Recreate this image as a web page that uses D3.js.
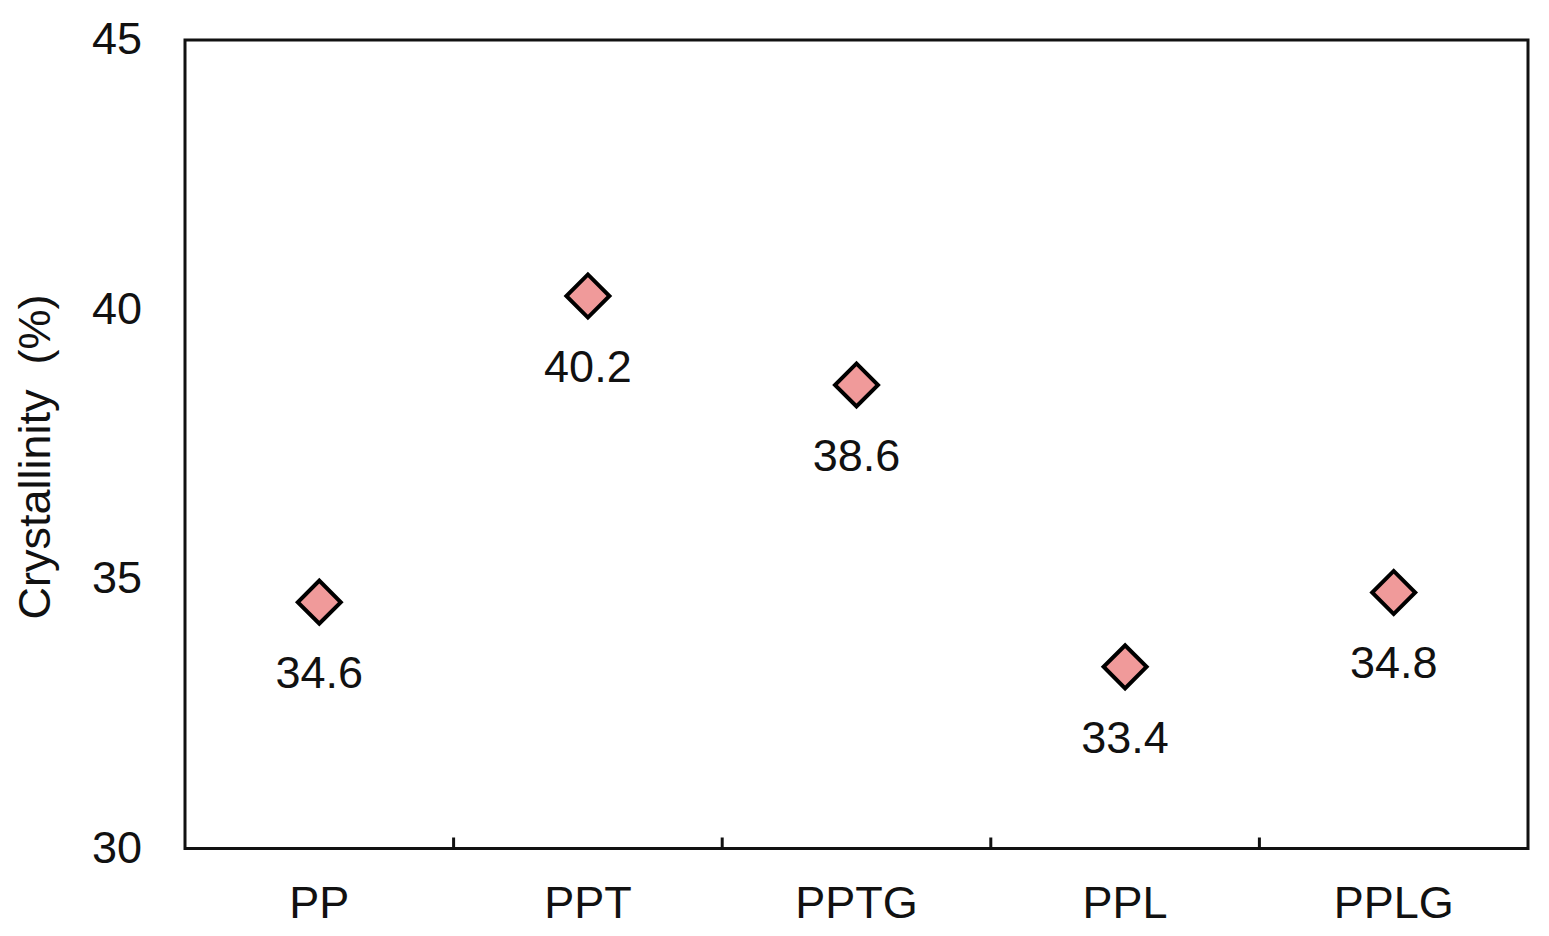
<!DOCTYPE html>
<html>
<head>
<meta charset="utf-8">
<script src="https://cdn.jsdelivr.net/npm/d3@7"></script>
<style>
  html, body { margin: 0; padding: 0; background: #fff; }
  svg { display: block; font-family: "Liberation Sans", Arial, sans-serif; }
</style>
</head>
<body>
<svg id="chart" width="1549" height="936"></svg>
<script>
const categories = ["PP", "PPT", "PPTG", "PPL", "PPLG"];
const crystallinity = [34.57, 40.25, 38.6, 33.37, 34.75];
const valueLabels = ["34.6", "40.2", "38.6", "33.4", "34.8"];
const yTicks = [30, 35, 40, 45];
const yTitle = "Crystallinity  (%)";

const svg = d3.select("#chart");
const plotLeft = 185, plotRight = 1528, plotTop = 40, plotBottom = 848.5;

const x = d3.scaleBand().domain(categories).range([plotLeft, plotRight]).padding(0);
const y = d3.scaleLinear().domain([30, 45]).range([plotBottom, plotTop]);

// frame
svg.append("rect")
  .attr("x", plotLeft).attr("y", plotTop)
  .attr("width", plotRight - plotLeft).attr("height", plotBottom - plotTop)
  .attr("fill", "none").attr("stroke", "#111").attr("stroke-width", 3);

// x-axis boundary ticks (inward)
const boundaries = categories.slice(1).map(c => x(c));
svg.selectAll("line.xtick").data(boundaries).enter().append("line")
  .attr("class", "xtick")
  .attr("x1", d => d).attr("x2", d => d)
  .attr("y1", plotBottom).attr("y2", plotBottom - 11)
  .attr("stroke", "#111").attr("stroke-width", 3);

// category labels
svg.selectAll("text.cat").data(categories).enter().append("text")
  .attr("class", "cat")
  .attr("x", d => x(d) + x.bandwidth() / 2)
  .attr("y", 918)
  .attr("text-anchor", "middle")
  .attr("font-size", 45)
  .attr("fill", "#111")
  .text(d => d);

// y tick labels
svg.selectAll("text.ytick").data(yTicks).enter().append("text")
  .attr("class", "ytick")
  .attr("x", 142)
  .attr("y", d => y(d) + 14)
  .attr("text-anchor", "end")
  .attr("font-size", 45)
  .attr("fill", "#111")
  .text(d => d);

// y title
svg.append("text")
  .attr("transform", `translate(50, 457) rotate(-90)`)
  .attr("text-anchor", "middle")
  .attr("font-size", 45)
  .attr("fill", "#111")
  .style("white-space", "pre")
  .text(yTitle);

// markers
const sym = d3.symbol().type(d3.symbolSquare).size(924);
svg.selectAll("path.pt").data(categories).enter().append("path")
  .attr("class", "pt")
  .attr("d", sym)
  .attr("transform", (d, i) => `translate(${x(d) + x.bandwidth() / 2}, ${y(crystallinity[i])}) rotate(45)`)
  .attr("fill", "#f09a9a")
  .attr("stroke", "#000")
  .attr("stroke-width", 4)
  .attr("stroke-linejoin", "miter");

// value labels
svg.selectAll("text.val").data(categories).enter().append("text")
  .attr("class", "val")
  .attr("x", d => x(d) + x.bandwidth() / 2)
  .attr("y", (d, i) => y(crystallinity[i]) + 86)
  .attr("text-anchor", "middle")
  .attr("font-size", 45)
  .attr("fill", "#111")
  .text((d, i) => valueLabels[i]);
</script>
</body>
</html>
